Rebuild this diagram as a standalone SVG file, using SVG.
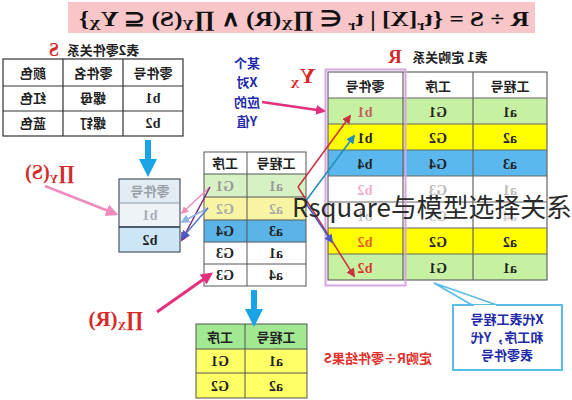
<svg xmlns="http://www.w3.org/2000/svg" width="572" height="400" viewBox="0 0 572 400">
<style>
.cn{font-family:"Noto Sans CJK SC","Noto Sans",sans-serif;font-weight:bold;font-size:13px;text-anchor:middle;fill:#222}
.sv{font-family:"Liberation Serif",serif;font-weight:bold;font-size:14px;text-anchor:middle;fill:#222}
.red{font-family:"Liberation Serif",serif;font-weight:bold;fill:#d42a2a;text-anchor:middle}
.cell{stroke:#555;stroke-width:1}
.blu{font-family:"Noto Sans CJK SC",sans-serif;font-weight:bold;font-size:13px;fill:#2229a8;text-anchor:middle}
.fade{fill:#b8b8b8}
</style>
<defs>
<marker id="mBlue" viewBox="0 0 10 10" refX="5" refY="5" markerWidth="3" markerHeight="3" orient="auto"><path d="M0,0L10,5L0,10z" fill="#1aa3e6"/></marker>
<marker id="mPink" viewBox="0 0 10 10" refX="8" refY="5" markerWidth="5" markerHeight="5" orient="auto"><path d="M0,0L10,5L0,10z" fill="#f08cbc"/></marker>
<marker id="mMag" viewBox="0 0 10 10" refX="8" refY="5" markerWidth="4" markerHeight="4" orient="auto"><path d="M0,0L10,5L0,10z" fill="#e3307c"/></marker>
<marker id="mRed" viewBox="0 0 10 10" refX="8" refY="5" markerWidth="6" markerHeight="6" orient="auto"><path d="M0,0L10,5L0,10z" fill="#c83040"/></marker>
<marker id="mTeal" viewBox="0 0 10 10" refX="8" refY="5" markerWidth="6" markerHeight="6" orient="auto"><path d="M0,0L10,5L0,10z" fill="#1f8fb8"/></marker>
<marker id="mNavy" viewBox="0 0 10 10" refX="8" refY="5" markerWidth="6" markerHeight="6" orient="auto"><path d="M0,0L10,5L0,10z" fill="#4a5cc4"/></marker>
<marker id="mPurp" viewBox="0 0 10 10" refX="8" refY="5" markerWidth="6" markerHeight="6" orient="auto"><path d="M0,0L10,5L0,10z" fill="#7a2a80"/></marker>
<marker id="mLb" viewBox="0 0 10 10" refX="8" refY="5" markerWidth="6" markerHeight="6" orient="auto"><path d="M0,0L10,5L0,10z" fill="#8fb4e0"/></marker>
</defs>
<rect width="572" height="400" fill="#ffffff"/>

<g id="title">
<rect x="68" y="2" width="467" height="31" fill="#f8c6c8"/>
<text transform="translate(304 26) scale(-1 1)" font-family="Liberation Serif,serif" font-weight="bold" font-size="22" fill="#111" text-anchor="middle" textLength="450" lengthAdjust="spacingAndGlyphs">R ÷ S = {t<tspan font-size="14" dy="4">r</tspan><tspan dy="-4">[X] | t</tspan><tspan font-size="14" dy="4">r</tspan><tspan dy="-4"> ∈ ∏</tspan><tspan font-size="14" dy="4">X</tspan><tspan dy="-4">(R) ∧ ∏</tspan><tspan font-size="14" dy="4">Y</tspan><tspan dy="-4">(S) ⊆ Y</tspan><tspan font-size="14" dy="4">X</tspan><tspan dy="-4">}</tspan></text>
</g>

<g id="tableS">
<text class="cn" font-size="14" transform="translate(103 55) scale(-1 1)">表2零件关系</text>
<text class="red" font-size="18" transform="translate(54 56) scale(-1 1)">S</text>
<rect x="3" y="59" width="180" height="77" fill="#fff" stroke="#333" stroke-width="1.2"/>
<path d="M3 86H183M3 111H183M63 59V136M123 59V136" stroke="#333" stroke-width="1.2"/>
<text class="cn" transform="translate(33 78) scale(-1 1)">颜色</text>
<text class="cn" transform="translate(93 78) scale(-1 1)">零件名</text>
<text class="cn" transform="translate(153 78) scale(-1 1)">零件号</text>
<text class="cn" transform="translate(33 103) scale(-1 1)">红色</text>
<text class="cn" transform="translate(93 103) scale(-1 1)">螺母</text>
<text class="sv" transform="translate(153 103) scale(-1 1)">b1</text>
<text class="cn" transform="translate(33 128) scale(-1 1)">蓝色</text>
<text class="cn" transform="translate(93 128) scale(-1 1)">螺钉</text>
<text class="sv" transform="translate(153 128) scale(-1 1)">b2</text>
</g>

<g id="tablePiYS">
<rect x="119" y="179" width="61" height="24" fill="#e4ecf3"/>
<rect x="119" y="203" width="61" height="24" fill="#eef3f8"/>
<rect x="119" y="227" width="61" height="25" fill="#cce5f7"/>
<rect x="119" y="179" width="61" height="73" fill="none" stroke="#4a5560" stroke-width="1.2"/>
<path d="M119 203H180M119 227H180" stroke="#8a98a6" stroke-width="1"/>
<path d="M119 227H180" stroke="#2a3a4a" stroke-width="1.5"/>
<text class="cn" fill="#9aa0a8" style="fill:#9aa0a8" transform="translate(150 196) scale(-1 1)">零件号</text>
<text class="sv" style="fill:#a8adb3" transform="translate(150 220) scale(-1 1)">b1</text>
<text class="sv" transform="translate(150 245) scale(-1 1)">b2</text>
</g>

<g id="tablePiXR">
<rect x="204" y="152" width="102" height="134" fill="#fff"/>
<rect x="204" y="174" width="102" height="23" fill="#d6f2c4"/>
<rect x="204" y="197" width="102" height="23" fill="#f8f4a4"/>
<rect x="204" y="220" width="102" height="22" fill="#5ab4e8"/>
<rect x="204" y="152" width="102" height="134" fill="none" stroke="#555" stroke-width="1"/>
<path d="M204 174H306M204 197H306M204 220H306M204 242H306M204 264H306M247 152V286" stroke="#555" stroke-width="1"/>
<text class="cn" transform="translate(225 168) scale(-1 1)">工序</text>
<text class="cn" transform="translate(276 168) scale(-1 1)">工程号</text>
<text class="sv" style="fill:#999" transform="translate(225 191) scale(-1 1)">G1</text>
<text class="sv" style="fill:#999" transform="translate(276 191) scale(-1 1)">a1</text>
<text class="sv" style="fill:#aaa" transform="translate(225 214) scale(-1 1)">G2</text>
<text class="sv" style="fill:#aaa" transform="translate(276 214) scale(-1 1)">a2</text>
<text class="sv" transform="translate(225 236) scale(-1 1)">G4</text>
<text class="sv" transform="translate(276 236) scale(-1 1)">a3</text>
<text class="sv" transform="translate(225 258) scale(-1 1)">G3</text>
<text class="sv" transform="translate(276 258) scale(-1 1)">a1</text>
<text class="sv" transform="translate(225 280) scale(-1 1)">G3</text>
<text class="sv" transform="translate(276 280) scale(-1 1)">a4</text>
</g>

<g id="tableR">
<text class="cn" font-size="14" transform="translate(450 62) scale(-1 1)">表1 定购关系</text>
<text class="red" font-size="19" transform="translate(395 63) scale(-1 1)">R</text>
<rect x="328" y="72" width="219" height="26" fill="#fff"/>
<rect x="328" y="98" width="219" height="26" fill="#c6f0a2"/>
<rect x="328" y="124" width="219" height="26" fill="#ffff00"/>
<rect x="328" y="150" width="219" height="26" fill="#5bb8ee"/>
<rect x="328" y="176" width="219" height="52" fill="#fff"/>
<rect x="328" y="228" width="219" height="26" fill="#ffff00"/>
<rect x="328" y="254" width="219" height="26" fill="#c6f0a2"/>
<rect x="328" y="72" width="219" height="208" fill="none" stroke="#666" stroke-width="1.2"/>
<path d="M328 98H547M328 124H547M328 150H547M328 176H547M328 202H547M328 228H547M328 254H547M403 72V280M473 72V280" stroke="#666" stroke-width="1.2"/>
<text class="cn" font-size="14" transform="translate(365 91) scale(-1 1)">零件号</text>
<text class="cn" font-size="14" transform="translate(438 91) scale(-1 1)">工序</text>
<text class="cn" font-size="14" transform="translate(510 91) scale(-1 1)">工程号</text>
<text class="sv" style="fill:#c06058" transform="translate(365 117) scale(-1 1)">b1</text>
<text class="sv" transform="translate(438 117) scale(-1 1)">G1</text>
<text class="sv" transform="translate(510 117) scale(-1 1)">a1</text>
<text class="sv" transform="translate(365 143) scale(-1 1)">b1</text>
<text class="sv" transform="translate(438 143) scale(-1 1)">G2</text>
<text class="sv" transform="translate(510 143) scale(-1 1)">a2</text>
<text class="sv" transform="translate(365 169) scale(-1 1)">b4</text>
<text class="sv" transform="translate(438 169) scale(-1 1)">G4</text>
<text class="sv" transform="translate(510 169) scale(-1 1)">a3</text>
<text class="sv" style="fill:#f4aacb" transform="translate(365 195) scale(-1 1)">b2</text>
<text class="sv" style="fill:#bbb" transform="translate(438 195) scale(-1 1)">G3</text>
<text class="sv" style="fill:#bbb" transform="translate(510 195) scale(-1 1)">a1</text>
<text class="sv" style="fill:#ccc" transform="translate(365 221) scale(-1 1)">b1</text>
<text class="sv" style="fill:#ccc" transform="translate(438 221) scale(-1 1)">G3</text>
<text class="sv" style="fill:#ccc" transform="translate(510 221) scale(-1 1)">a4</text>
<text class="sv" style="fill:#e85a20" transform="translate(365 247) scale(-1 1)">b2</text>
<text class="sv" transform="translate(438 247) scale(-1 1)">G2</text>
<text class="sv" transform="translate(510 247) scale(-1 1)">a2</text>
<text class="sv" style="fill:#d83434" transform="translate(365 273) scale(-1 1)">b2</text>
<text class="sv" transform="translate(438 273) scale(-1 1)">G1</text>
<text class="sv" transform="translate(510 273) scale(-1 1)">a1</text>
<rect x="325.5" y="69.5" width="80" height="216" fill="none" stroke="#d6a6e0" stroke-width="2"/>
</g>

<g id="tableResult">
<rect x="196" y="324" width="111" height="25" fill="#a2e892"/>
<rect x="196" y="349" width="111" height="49" fill="#ffff66"/>
<rect x="196" y="324" width="111" height="74" fill="none" stroke="#555" stroke-width="1"/>
<path d="M196 349H307M196 373H307M245 324V398" stroke="#555" stroke-width="1"/>
<text class="cn" transform="translate(220 342) scale(-1 1)">工序</text>
<text class="cn" transform="translate(276 342) scale(-1 1)">工程号</text>
<text class="sv" transform="translate(220 366) scale(-1 1)">G1</text>
<text class="sv" transform="translate(276 366) scale(-1 1)">a1</text>
<text class="sv" transform="translate(220 391) scale(-1 1)">G2</text>
<text class="sv" transform="translate(276 391) scale(-1 1)">a2</text>
</g>

<g id="labels">
<text class="red" font-size="20" transform="translate(50 179) scale(-1 1)">∏<tspan font-size="12" dy="4">Y</tspan><tspan dy="-4">(S)</tspan></text>
<text class="red" font-size="21" transform="translate(116 326) scale(-1 1)">∏<tspan font-size="12" dy="4">X</tspan><tspan dy="-4">(R)</tspan></text>
<text class="red" font-size="22" transform="translate(303 83) scale(-1 1)">Y<tspan font-size="13" dy="5">X</tspan></text>
<text class="blu" transform="translate(247 68) scale(-1 1)">某个</text>
<text class="blu" transform="translate(247 87) scale(-1 1)">X对</text>
<text class="blu" transform="translate(247 107) scale(-1 1)">应的</text>
<text class="blu" transform="translate(247 126) scale(-1 1)">Y值</text>
<text font-family="Noto Sans CJK SC,sans-serif" font-weight="bold" font-size="13" fill="#e0302c" text-anchor="middle" transform="translate(378 363) scale(-1 1)">定购R÷零件结果S</text>
</g>

<g id="callout">
<path d="M472 305L434 283L497 305" fill="#fff" stroke="#5bbde6" stroke-width="1.8"/>
<rect x="453" y="305" width="109" height="65" fill="#fff" stroke="#5bbde6" stroke-width="2"/>
<path d="M474 306H496" stroke="#fff" stroke-width="2"/>
<text class="blu" transform="translate(507 324) scale(-1 1)">X代表工程号</text>
<text class="blu" transform="translate(507 342) scale(-1 1)">和工序，Y代</text>
<text class="blu" transform="translate(507 360) scale(-1 1)">表零件号</text>
</g>

<g id="connectors" fill="none">
<line x1="148" y1="140" x2="148" y2="168" stroke="#1aa3e6" stroke-width="6" marker-end="url(#mBlue)"/>
<line x1="254" y1="290" x2="254" y2="318" stroke="#1aa3e6" stroke-width="6" marker-end="url(#mBlue)"/>
<line x1="45" y1="186" x2="116" y2="214" stroke="#f08cbc" stroke-width="2.5" marker-end="url(#mPink)"/>
<line x1="157" y1="312" x2="211" y2="274" stroke="#e3307c" stroke-width="3" marker-end="url(#mMag)"/>
<line x1="262" y1="102" x2="324" y2="111" stroke="#e3307c" stroke-width="2.5" marker-end="url(#mMag)"/>
<line x1="298" y1="187" x2="350" y2="116" stroke="#c83040" stroke-width="1.5" marker-end="url(#mRed)"/>
<line x1="298" y1="187" x2="354" y2="276" stroke="#c83040" stroke-width="1.5" marker-end="url(#mRed)"/>
<line x1="305" y1="202" x2="354" y2="136" stroke="#1f8fb8" stroke-width="1.5" marker-end="url(#mTeal)"/>
<line x1="305" y1="202" x2="332" y2="242" stroke="#4a5cc4" stroke-width="1.5" marker-end="url(#mNavy)"/>
<line x1="210" y1="187" x2="182" y2="213" stroke="#f08cbc" stroke-width="1.5" marker-end="url(#mPink)"/>
<line x1="210" y1="187" x2="182" y2="240" stroke="#7a2a80" stroke-width="1.5" marker-end="url(#mPurp)"/>
<line x1="208" y1="208" x2="182" y2="222" stroke="#8fb4e0" stroke-width="1.5" marker-end="url(#mLb)"/>
<line x1="208" y1="208" x2="182" y2="238" stroke="#5a7ac4" stroke-width="1.5" marker-end="url(#mNavy)"/>
</g>

<text x="292" y="217" font-family="Noto Sans CJK SC,Noto Sans,sans-serif" font-size="26" fill="#2a2a2a" textLength="280" lengthAdjust="spacingAndGlyphs">Rsquare与模型选择关系</text>
</svg>
